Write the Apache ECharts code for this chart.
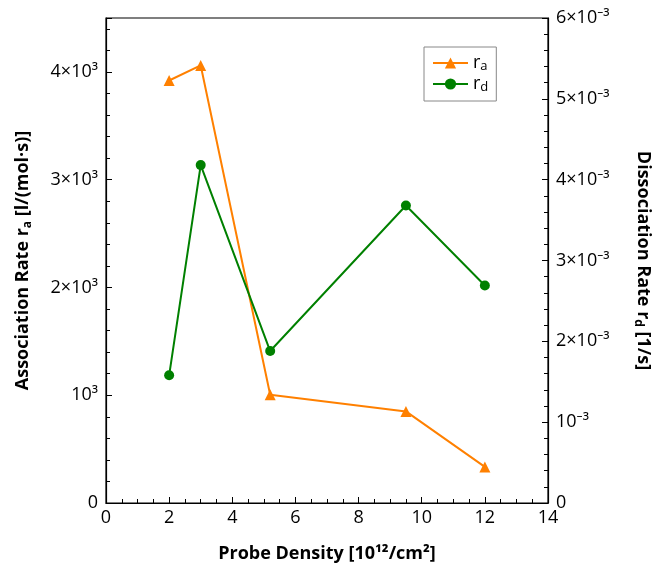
<!DOCTYPE html>
<html><head><meta charset="utf-8">
<script src="https://cdn.jsdelivr.net/npm/echarts@6/dist/echarts.min.js"></script>
<style>html,body{margin:0;padding:0;background:#fff}#c{width:652px;height:566px}</style>
</head><body><div id="c"></div>
<script>
const probeDensity = [2, 3, 5.2, 9.5, 12];
const assocRate = [3920, 4060, 1005, 850, 335];
const dissocRate = [1.58e-3, 4.18e-3, 1.88e-3, 3.68e-3, 2.69e-3];
const leftTickLabels = {0:'0',1000:'10³',2000:'2×10³',3000:'3×10³',4000:'4×10³'};
const rightTickLabels = ['0','10⁻³','2×10⁻³','3×10⁻³','4×10⁻³','5×10⁻³','6×10⁻³'];

const FONT = '"Open Sans", "Noto Sans", sans-serif';
const chart = echarts.init(document.getElementById('c'));
const axisCommon = {
  axisLine: {show: true, onZero: false, lineStyle: {color: '#000', width: 1.2}},
  axisTick: {show: true, inside: true, length: 6, lineStyle: {color: '#000'}},
  minorTick: {show: true, splitNumber: 5, length: 4, lineStyle: {color: '#000'}},
  splitLine: {show: false},
  axisLabel: {color: '#000', fontSize: 18, fontFamily: FONT},
  nameTextStyle: {color: '#000', fontSize: 18, fontWeight: 'bold', fontFamily: FONT, lineHeight: 22}
};
const subRich = {sub: {fontSize: 12, fontWeight: 'bold', lineHeight: 12, verticalAlign: 'bottom', fontFamily: FONT}};
chart.setOption({
  animation: false,
  grid: {left: 106, right: 104, top: 18, bottom: 63, containLabel: false, outerBoundsMode: 'none',
         show: true, borderColor: '#000', borderWidth: 1.2},
  legend: {
    left: 424, top: 47, orient: 'vertical', itemWidth: 35, itemHeight: 14, itemGap: 1,
    borderColor: '#888', borderWidth: 1, padding: [6, 8, 7, 8], borderRadius: 0,
    textStyle: {fontSize: 18, color: '#000', fontFamily: FONT, lineHeight: 20,
      rich: {sub: {fontSize: 13, lineHeight: 12, verticalAlign: 'bottom', fontFamily: FONT}}},
    formatter: n => n === 'ra' ? 'r{sub|a}' : 'r{sub|d}',
    data: ['ra', 'rd']
  },
  xAxis: Object.assign({}, axisCommon, {
    type: 'value', min: 0, max: 14, interval: 2,
    minorTick: {show: true, splitNumber: 4, length: 4, lineStyle: {color: '#000'}},
    axisLabel: Object.assign({}, axisCommon.axisLabel, {margin: 6}),
    name: 'Probe Density [10¹²/cm²]', nameLocation: 'middle', nameGap: 40
  }),
  yAxis: [
    Object.assign({}, axisCommon, {
      type: 'value', min: 0, max: 4500, interval: 1000,
      minorTick: {show: true, splitNumber: 5, length: 4, lineStyle: {color: '#000'}},
      axisLabel: Object.assign({}, axisCommon.axisLabel, {margin: 8, showMaxLabel: false,
        formatter: v => leftTickLabels[v] !== undefined ? leftTickLabels[v] : ''}),
      name: 'Association Rate r{sub|a} [l/(mol·s)]', nameLocation: 'middle', nameGap: 72,
      nameTextStyle: Object.assign({}, axisCommon.nameTextStyle, {rich: subRich})
    }),
    Object.assign({}, axisCommon, {
      type: 'value', min: 0, max: 6e-3, interval: 1e-3, position: 'right',
      axisLabel: Object.assign({}, axisCommon.axisLabel, {margin: 8,
        formatter: v => rightTickLabels[Math.round(v / 1e-3)]}),
      name: 'Dissociation Rate r{sub|d} [1/s]', nameLocation: 'middle', nameGap: 84, nameRotate: -90,
      nameTextStyle: Object.assign({}, axisCommon.nameTextStyle, {rich: subRich})
    })
  ],
  series: [
    {name: 'ra', type: 'line', yAxisIndex: 0, data: probeDensity.map((x, i) => [x, assocRate[i]]),
     symbol: 'triangle', symbolSize: 11, color: '#ff8000', lineStyle: {width: 2}, itemStyle: {color: '#ff8000'}},
    {name: 'rd', type: 'line', yAxisIndex: 1, data: probeDensity.map((x, i) => [x, dissocRate[i]]),
     symbol: 'circle', symbolSize: 10, color: '#008000', lineStyle: {width: 2}, itemStyle: {color: '#008000'}}
  ]
});
</script></body></html>
